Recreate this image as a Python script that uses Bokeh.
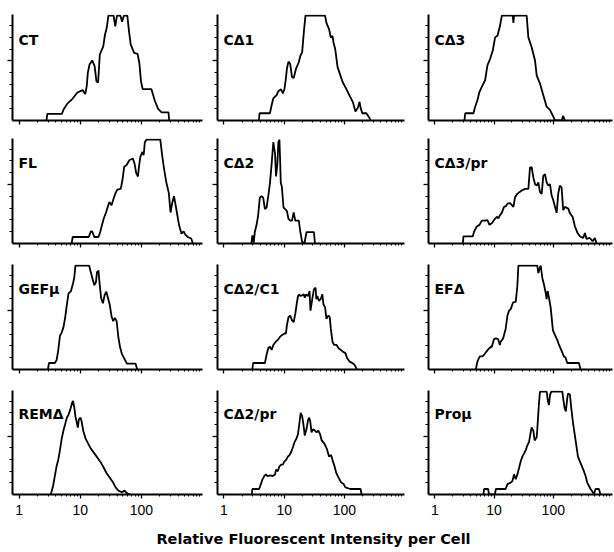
from bokeh.plotting import figure
from bokeh.layouts import column, row
from bokeh.models import Range1d, FixedTicker, NumeralTickFormatter, Label
from bokeh.embed import file_html
from bokeh.resources import INLINE

# ---------------- data (intensity, relative cell count) ----------------
X_TICKS = [1, 10, 100]
X_TICK_LABELS = ["1", "10", "100"]
X_LABEL = "Relative Fluorescent Intensity per Cell"

CT_X = [2.8, 2.9, 5.0, 5.4, 6.1, 7.4, 9.0, 10.9, 12.1, 12.8, 13.3, 14.2, 15.7, 17.2, 18.4, 19.6, 20.9, 23.8, 25.4, 27.1,
        28.9, 35.1, 37.4, 39.9, 45.4, 48.4, 51.7, 58.9, 62.8, 67, 76.2, 86.7, 92.5, 98.6, 105, 146, 166, 188, 214, 278, 285]
CT_Y = [0, 5.5, 5.5, 9.7, 13.9, 18, 23.5, 25.5, 22.2, 29, 40, 47, 50.4, 45.7, 33, 31.9, 55.4, 62.3, 72, 77.6,
        88, 88, 79, 88, 88, 83, 88, 88, 74.8, 63.7, 56.8, 56, 48.5, 33, 26.3, 26.3, 16.6, 9.7, 6.9, 6.9, 0]

CD1_X = [3.8, 3.9, 5.8, 6.2, 6.6, 7.5, 8.0, 8.9, 9.5, 10.1, 10.7, 11.1, 11.8, 12.6, 13.5, 14.4, 15.7, 17.5, 18.6, 19.9,
         21.2, 22.6, 47.8, 50.4, 55.9, 59.6, 63.6, 66.1, 70.5, 77.2, 82.4, 93.7, 107, 121, 138, 153, 168, 179, 186, 199,
         232, 264, 274]
CD1_Y = [0, 6.1, 6.1, 13, 18.5, 21.3, 24.6, 26.2, 22.7, 26.2, 35.6, 43.4, 49.4, 47.5, 36.5, 35.6, 43.4, 48.9, 54.4, 57.2,
         73.8, 88, 88, 82, 76.5, 69.6, 71, 65.5, 60, 44.8, 40.6, 32.3, 26.8, 21.3, 15.7, 7.5, 10.8, 15.7, 10.8, 6.1,
         6.1, 1.9, 0]

CD3_X = [3.16, 3.25, 4.48, 4.79, 5.24, 5.66, 6.2, 7.05, 7.72, 8.57, 9.5, 10.4, 11.4, 12.6, 13.5, 20.6, 21.2, 21.7, 35.5,
         37.9, 43.1, 49.1, 52.4, 59.6, 67.8, 77.2, 87.9, 100, 107, 138, 147, 157]
CD3_Y = [0, 6.1, 6.1, 11.6, 17.2, 24.1, 28.3, 33.8, 46.3, 51.8, 58.7, 69.8, 71.2, 79.5, 88, 88, 82, 88, 88,
         69.8, 61.5, 50.4, 37.9, 31, 21.3, 11.6, 8.9, 3.3, 0, 0, 3.9, 0]

FL_X = [7.24, 7.52, 13.8, 14.9, 15.7, 17.0, 19.9, 21.2, 22.6, 24.1, 26.4, 28.5, 30.0, 32.5, 35.5, 37.9, 40.4, 46.0, 49.1,
        52.4, 57.3, 63.6, 72.4, 77.2, 82.4, 87.9, 91.4, 96.2, 104, 109, 114, 121, 204, 217, 232, 254, 281, 300, 320, 342,
        365, 389, 415, 454, 491, 524, 573, 653, 697]
FL_Y = [0, 5.5, 5.5, 10.2, 10.2, 5.5, 5.5, 9.7, 15.2, 20.8, 26.3, 31.9, 35.2, 32.4, 38.8, 42.9, 45.7, 46.3, 54,
        65.1, 66.5, 70.6, 72, 67.9, 59.6, 56.8, 65.1, 73.4, 77.6, 74.8, 85.9, 88, 88, 76.2, 65.1, 52.6, 42.9, 26.3, 34.6, 40.2,
        31.9, 23.5, 15.2, 8.3, 10.2, 7.5, 5.5, 4.2, 0]

CD2_X = [2.85, 2.96, 3.12, 3.25, 3.46, 3.69, 3.94, 4.2, 4.48, 4.79, 5.1, 5.44, 5.81, 6.2, 6.61, 7.05, 7.33, 7.72, 8.02,
         8.34, 8.57, 8.79, 9.14, 9.75, 10.4, 11.1, 11.8, 12.6, 13.5, 14.4, 15.3, 17.5, 18.6, 19.9, 21.7, 23.5, 31.2, 32.5]
CD2_Y = [0, 6.9, 0.8, 9.7, 15.2, 23.5, 38.8, 40.2, 38.8, 29.1, 30.5, 40.2, 51.2, 67.9, 86, 76.2, 56.8, 67.9, 86,
         88, 70.6, 51.2, 48.5, 30.5, 29.1, 27.7, 20.8, 19.4, 19.4, 26.3, 19.4, 19.4, 9.7, 1.4, 0, 9.7, 9.7, 0]

CD3PR_X = [2.96, 3.04, 4.37, 4.6, 5.1, 5.66, 6.2, 7.05, 7.72, 8.34, 9.14, 10.0, 11.1, 11.8, 12.6, 13.5, 14.7, 15.9, 16.8,
           18.6, 21.2, 22.6, 24.7, 26.7, 29.3, 33.3, 37.9, 40.4, 43.1, 46.0, 49.1, 52.4, 55.9, 59.6, 63.6, 67.8, 72.4,
           77.2, 82.4, 87.9, 93.7, 100, 107, 114, 121, 129, 138, 147, 157, 179, 191, 212, 232, 254, 281, 320, 342, 365,
           415, 460, 504, 537]
CD3PR_Y = [0, 6.1, 6.1, 10.2, 14.4, 15.8, 19.4, 19.4, 19.9, 15.8, 17.2, 19.9, 22.7, 21.3, 24.1, 26, 31, 31.6, 33.8,
           34.3, 31, 39.3, 42.1, 43.5, 44.9, 46.3, 46.3, 64.3, 64.8, 56, 50.4, 49, 51.8, 43.5, 42.1, 57.3, 58.7,
           51.8, 49, 50.4, 40.7, 36.6, 31, 26, 42.1, 49, 47.6, 28.3, 31, 29.6, 25.5, 22.7, 14.4, 9.4, 6.1, 4.7, 8.9, 3.9,
           4.7, 1.9, 4.7, 0]

GEF_X = [2.96, 3.08, 3.84, 4.1, 4.37, 4.66, 4.97, 5.3, 5.66, 6.04, 6.44, 7.05, 7.62, 8.02, 8.34, 14.0, 14.9, 15.9, 17.0,
         18.1, 18.8, 19.9, 20.6, 22.0, 23.5, 25.1, 26.7, 28.5, 30.4, 32.5, 34.6, 36.9, 39.4, 42.1, 44.9, 47.9, 54.5,
         58.1, 80.2, 85.7]
GEF_Y = [0, 5.5, 5.5, 7.8, 16.1, 28.5, 31.3, 35.5, 43.8, 54.8, 64.5, 66.5, 72.9, 78.4, 88, 88, 82.5, 77, 71.5,
         74.2, 82.5, 83.9, 74.2, 60.4, 56.2, 63.2, 65.9, 60.4, 54.8, 45.2, 41, 43.8, 41, 27.1, 18.8, 13.3, 7.8,
         5, 5, 0]

CD2C1_X = [2.96, 3.04, 4.79, 5.1, 5.44, 5.81, 6.2, 6.61, 7.24, 8.02, 8.57, 9.14, 10.1, 10.7, 11.1, 11.8, 12.6, 13.5,
           14.4, 15.3, 16.3, 17.0, 17.9, 18.6, 19.9, 21.2, 22.0, 23.2, 25.1, 26.4, 27.4, 29.3, 31.2, 33.3, 34.2, 35.5,
           37.9, 40.4, 43.1, 44.9, 47.9, 50.4, 54.5, 57.3, 59.6, 63.6, 67.8, 74.3, 80.2, 87.9, 93.7, 104, 111, 121, 135,
           147, 157, 161]
CD2C1_Y = [0, 5.5, 5.5, 12.5, 18, 19.4, 16.6, 20.8, 23.5, 25.8, 27.7, 29.1, 30.5, 30.5, 37.4, 44.3, 45.7, 41.6,
           40.2, 47.1, 56.8, 62.3, 63.7, 62.3, 62.9, 63.7, 60.9, 63.7, 62.3, 66.5, 49.9, 59.6, 67.9, 69.3, 59.6, 62.3,
           58.2, 59.6, 63.7, 55.4, 52.6, 42.9, 45.7, 44.3, 34.6, 23.5, 20.8, 20.8, 18, 16.6, 15.2, 13.9, 9.7, 6.9, 5.5,
           4.2, 1.4, 0]

EFD_X = [4.91, 5.24, 5.73, 6.36, 6.78, 7.43, 8.24, 9.14, 10.0, 10.7, 11.7, 12.5, 12.9, 14.2, 15.7, 16.8, 17.9, 19.1,
         20.9, 23.2, 24.7, 25.7, 53.7, 55.9, 58.9, 61.2, 65.3, 69.6, 74.3, 77.2, 80.2, 84.5, 90.2, 98.6, 107, 117, 125,
         136, 151, 161, 172, 271, 289]
EFD_Y = [0, 6.9, 11.1, 11.1, 12.5, 15.2, 18, 19.4, 25.8, 26.3, 25.8, 20.8, 23.5, 26.3, 34.6, 45.7, 49.9, 51.2,
         56.8, 57.3, 70.6, 88, 88, 81.7, 85.9, 88, 77.6, 72, 65.1, 59.6, 66.5, 60.9, 52.6, 33.2, 29.1, 24.9, 20.8,
         16.6, 11.1, 10.2, 5.5, 5.5, 0]

REM_X = [3.25, 3.37, 3.6, 3.84, 4.1, 4.37, 4.66, 4.97, 5.3, 5.66, 6.04, 6.44, 6.87, 7.33, 7.62, 8.02, 8.34, 8.67, 9.14,
         9.5, 10.1, 10.5, 11.2, 12.3, 13.5, 14.9, 17.0, 19.4, 22.0, 24.4, 26.7, 30.4, 34.6, 37.9, 42.1, 47.9, 53.1,
         55.9, 60.4, 66.1]
REM_Y = [0, 1.9, 7.5, 15.8, 24.1, 29.6, 38, 47.6, 54.6, 60.1, 65.7, 68.4, 72.6, 78.1, 80.1, 74, 67, 62.9, 57.3,
         64.3, 65.7, 62.9, 54.6, 47.6, 43.5, 39.3, 35.2, 31, 26.9, 22.7, 18.6, 14.4, 10.2, 6.1, 3.3, 1.9, 3.3,
         1.9, 0.6, 0]

CD2PR_X = [2.89, 2.96, 3.84, 4.1, 4.37, 4.66, 4.97, 5.3, 5.89, 6.44, 7.05, 7.33, 7.82, 8.34, 8.9, 9.5, 10.1, 10.8, 11.5,
           12.3, 13.1, 14.0, 14.9, 15.9, 17.0, 18.1, 18.8, 19.9, 20.9, 22.0, 23.5, 25.1, 26.1, 27.1, 28.5, 30.4, 32.5,
           34.6, 36.9, 39.4, 42.1, 46.6, 51.0, 55.9, 60.4, 63.6, 68.7, 73.3, 80.2, 89.0, 97.5, 104, 126, 186, 194]
CD2PR_Y = [0, 4.7, 4.7, 8.9, 13, 15.8, 17.2, 15.8, 16.3, 15.8, 17.2, 21.3, 19.9, 24.1, 25.5, 25.5, 28.3, 29.6, 32.4,
           33.8, 36.6, 40.7, 44.9, 47.6, 51.8, 62.9, 69.8, 67, 60.1, 50.4, 56, 64.3, 65.7, 62.9, 53.2, 56, 54.6,
           53.2, 54.6, 51.8, 46.3, 43.5, 39.3, 32.4, 33.8, 29.6, 24.1, 18.6, 14.4, 10.2, 8.9, 6.1, 4.7, 4.7, 0]

PRO_X = [6.61, 6.78, 7.92, 8.24, 10.3, 10.7, 15.7, 16.8, 19.1, 20.4, 21.7, 23.2, 24.7, 26.4, 28.1, 30.0, 32.1, 34.2,
         36.5, 38.9, 41.5, 43.1, 46.0, 48.4, 52.4, 53.7, 57.3, 59.6, 77.2, 81.3, 84.5, 87.9, 92.5, 142, 147, 155, 163,
         172, 177, 191, 201, 217, 238, 261, 289, 321, 351, 374, 426, 472, 484, 517, 589, 628]
PRO_Y = [0, 4.7, 4.7, 0, 0, 4.7, 4.7, 8.9, 10.2, 11.6, 17.2, 13, 17.2, 22.7, 28.3, 32.4, 35.2, 38,
         42.1, 44.9, 53.2, 57.3, 54.6, 46.3, 49, 56, 78.1, 88, 88, 79.5, 76.7, 85, 88, 88, 82.3, 74, 71.2,
         82.3, 86.4, 85.6, 74, 60.1, 46.3, 32.4, 26.9, 21.3, 15.8, 10.2, 4.7, 1.4, 0, 4.7, 4.7, 0]

PANELS = [
    [("CT", CT_X, CT_Y), ("C\u03941", CD1_X, CD1_Y), ("C\u03943", CD3_X, CD3_Y)],
    [("FL", FL_X, FL_Y), ("C\u03942", CD2_X, CD2_Y), ("C\u03943/pr", CD3PR_X, CD3PR_Y)],
    [("GEF\u03bc", GEF_X, GEF_Y), ("C\u03942/C1", CD2C1_X, CD2C1_Y), ("EF\u0394", EFD_X, EFD_Y)],
    [("REM\u0394", REM_X, REM_Y), ("C\u03942/pr", CD2PR_X, CD2PR_Y), ("Pro\u03bc", PRO_X, PRO_Y)],
]

# ---------------- layout / style ----------------
COL_W = [211, 211, 192]
LEFT_B = [12, 6, 6]
RIGHT_B = [9, 18, 2]
ROW_H = [130, 125, 125, 145]
TOP_B = [14, 8, 9, 10]
BOTTOM_B = [10, 12, 11, 31]
TITLE_H = 27
X_MIN, X_MAX = 0.78, 1000
Y_MAX = 89
minor_x = [m * 10 ** k for k in range(3) for m in range(2, 10)]


def style_axis(ax):
    ax.axis_line_width = 2
    ax.axis_line_color = "black"
    ax.major_tick_in = 0
    ax.minor_tick_in = 0
    ax.major_tick_line_color = "black"
    ax.minor_tick_line_color = "black"
    ax.major_tick_line_width = 1.3
    ax.minor_tick_line_width = 1.1


def hide_labels(ax):
    ax.major_label_text_font_size = "1px"
    ax.major_label_text_color = None
    ax.major_label_standoff = 0


def panel(i, j, name, xs, ys):
    bottom = i == 3
    p = figure(width=COL_W[j], height=ROW_H[i], x_axis_type="log",
               x_range=Range1d(X_MIN, X_MAX), y_range=Range1d(0, Y_MAX),
               output_backend="svg", toolbar_location=None,
               min_border_left=LEFT_B[j], min_border_right=RIGHT_B[j],
               min_border_top=TOP_B[i], min_border_bottom=BOTTOM_B[i])
    p.xgrid.visible = False
    p.ygrid.visible = False
    p.outline_line_color = None
    p.line(xs, ys, line_color="black", line_width=1.8)

    xa = p.xaxis[0]
    xa.ticker = FixedTicker(ticks=X_TICKS, minor_ticks=minor_x)
    xa.formatter = NumeralTickFormatter(format="0")
    xa.major_label_overrides = dict(zip(X_TICKS, X_TICK_LABELS))
    style_axis(xa)
    xa.major_tick_out = 4
    xa.minor_tick_out = 2
    if bottom:
        xa.major_label_text_font = "Liberation Sans"
        xa.major_label_text_font_size = "14px"
        xa.major_label_text_color = "black"
        xa.major_label_standoff = 6
    else:
        hide_labels(xa)

    ya = p.yaxis[0]
    ya.ticker = FixedTicker(ticks=[50], minor_ticks=[10, 20, 30, 40, 60, 70, 80])
    hide_labels(ya)
    style_axis(ya)
    ya.major_tick_out = 5
    ya.minor_tick_out = 3

    p.add_layout(Label(x=6, y=73, x_units="screen", y_units="screen", text=name,
                       text_font="DejaVu Sans", text_font_style="bold",
                       text_font_size="14px", text_color="black"))
    return p


rows = []
for i, prow in enumerate(PANELS):
    rows.append(row([panel(i, j, *spec) for j, spec in enumerate(prow)], spacing=0))

total_w = sum(COL_W)
t = figure(width=total_w, height=TITLE_H, x_range=Range1d(0, total_w), y_range=Range1d(0, TITLE_H),
           output_backend="svg", toolbar_location=None, min_border=0,
           x_axis_location=None, y_axis_location=None)
t.xgrid.visible = False
t.ygrid.visible = False
t.outline_line_color = None
t.add_layout(Label(x=313, y=TITLE_H - 13, text=X_LABEL, text_align="center", text_baseline="middle",
                   text_font="DejaVu Sans", text_font_style="bold", text_font_size="14.5px",
                   text_color="black"))
rows.append(t)

layout = column(rows, spacing=0)

open("out.html", "w").write(file_html(layout, INLINE, title="Histograms"))
